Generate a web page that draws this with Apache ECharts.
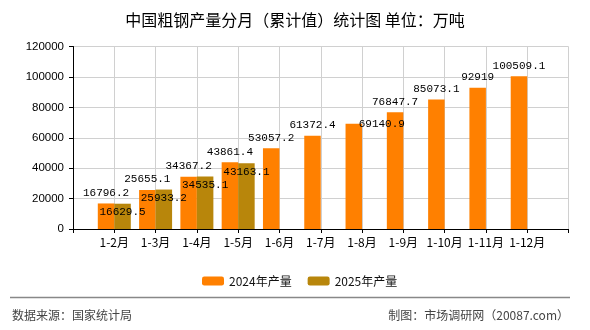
<!DOCTYPE html>
<html>
<head>
<meta charset="utf-8">
<script src="https://cdn.jsdelivr.net/npm/echarts@6/dist/echarts.min.js"></script>
<style>
html,body{margin:0;padding:0;background:#fff;}
#main{width:590px;height:330px;}
</style>
</head>
<body>
<div id="main"></div>
<script>
const months = ['1-2月','1-3月','1-4月','1-5月','1-6月','1-7月','1-8月','1-9月','1-10月','1-11月','1-12月'];
const values2024 = [16796.2, 25655.1, 34367.2, 43861.4, 53057.2, 61372.4, 69140.9, 76847.7, 85073.1, 92919, 100509.1];
const values2025 = [16629.5, 25933.2, 34535.1, 43163.1];
const yTicks = { min: 0, max: 120000, interval: 20000 };
const seriesNames = ['2024年产量', '2025年产量'];

// padded categories so bars sit on the interior ticks
const cats = [''].concat(months, ['']);
function pad(arr) {
  const out = [null];
  for (let i = 0; i < months.length; i++) out.push(i < arr.length ? arr[i] : null);
  out.push(null);
  return out;
}
const data2024 = pad(values2024).map((v, i) => {
  if (i === 7) return { value: v, label: { offset: [28, 11] } };
  return v;
});
const data2025 = pad(values2025);

const cjk = '"Noto Sans CJK SC", "Liberation Sans", sans-serif';
const mono = '"Liberation Mono", "DejaVu Sans Mono", monospace';

const chart = echarts.init(document.getElementById('main'), null, { renderer: 'canvas' });
chart.setOption({
  animation: false,
  backgroundColor: '#fff',
  title: {
    text: '中国粗钢产量分月（累计值）统计图 单位：万吨',
    left: 'center',
    top: 7,
    textStyle: { fontSize: 16, fontWeight: 'normal', color: '#000', fontFamily: cjk }
  },
  legend: {
    data: seriesNames,
    left: 197,
    top: 270,
    itemWidth: 22,
    itemHeight: 9,
    itemGap: 16,
    textStyle: { fontSize: 12, color: '#111', fontFamily: cjk }
  },
  grid: { left: 73, right: 21.5, top: 46.5, bottom: 101 },
  xAxis: {
    type: 'category',
    data: cats,
    boundaryGap: false,
    axisLine: { lineStyle: { color: '#000', width: 1 } },
    axisTick: { show: true, interval: 0, length: 4, lineStyle: { color: '#000' } },
    axisLabel: { interval: 0, margin: 7, fontSize: 12, color: '#000', fontFamily: cjk },
    splitLine: { show: true, interval: 0, lineStyle: { color: '#d0d0d0', width: 1 } }
  },
  yAxis: {
    type: 'value',
    min: yTicks.min,
    max: yTicks.max,
    interval: yTicks.interval,
    axisLine: { show: true, lineStyle: { color: '#000', width: 1 } },
    axisTick: { show: true, length: 4, lineStyle: { color: '#000' } },
    axisLabel: { margin: 9, fontSize: 11.5, color: '#000', fontFamily: '"Liberation Sans", sans-serif',
      formatter: v => String(v) },
    splitLine: { show: true, lineStyle: { color: '#d0d0d0', width: 1 } }
  },
  series: [
    {
      name: seriesNames[0],
      type: 'bar',
      data: data2024,
      barWidth: 16.5,
      barGap: '0%',
      itemStyle: { color: '#FF8000' },
      label: {
        show: true, position: 'top', distance: 5,
        fontSize: 11, color: '#000', fontFamily: mono
      }
    },
    {
      name: seriesNames[1],
      type: 'bar',
      data: data2025,
      barWidth: 16.5,
      barGap: '0%',
      itemStyle: { color: '#B8860B' },
      label: {
        show: true, position: 'insideTop', distance: 3,
        fontSize: 11, color: '#000', fontFamily: mono
      }
    }
  ],
  graphic: [
    { type: 'line', shape: { x1: 10, y1: 297.5, x2: 570, y2: 297.5 }, style: { stroke: '#888', lineWidth: 1.5 } },
    { type: 'text', left: 12, top: 309, style: { text: '数据来源：国家统计局', fontSize: 12, fill: '#444', fontFamily: cjk } },
    { type: 'text', right: 21, top: 309, style: { text: '制图：市场调研网（20087.com）', fontSize: 12, fill: '#444', fontFamily: cjk } }
  ]
});
</script>
</body>
</html>
